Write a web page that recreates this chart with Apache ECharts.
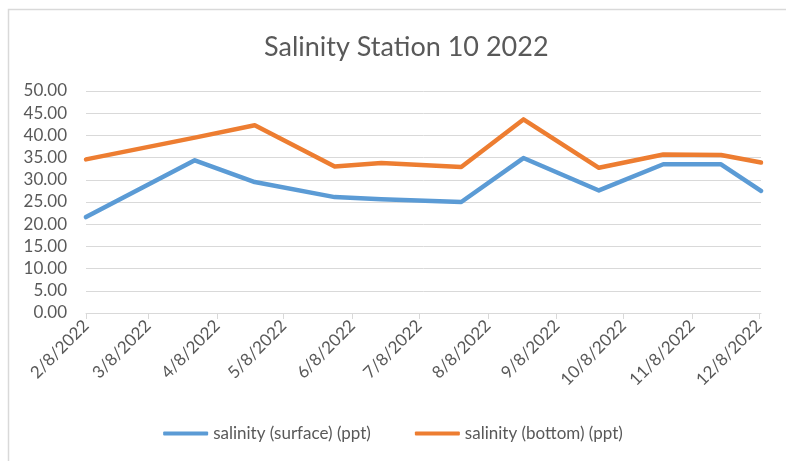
<!DOCTYPE html>
<html lang="en" style="height: 100%">
<head>
  <meta charset="utf-8">
</head>
<body style="height: 100%; margin: 0">
  <div id="container" style="height: 100%"></div>

  <script type="text/javascript" src="https://fastly.jsdelivr.net/npm/echarts@6.0.0/dist/echarts.min.js"></script>

  <script type="text/javascript">
    // sample dates and readings
    var sampleDates = ['2022-02-08', '2022-03-29', '2022-04-25', '2022-05-31', '2022-06-21', '2022-07-27',
      '2022-08-24', '2022-09-27', '2022-10-26', '2022-11-21', '2022-12-09'];
    var surface = [21.6, 34.4, 29.5, 26.1, 25.6, 25.0, 34.9, 27.6, 33.5, 33.5, 27.5];
    var bottom = [34.6, 39.5, 42.3, 33.0, 33.8, 32.9, 43.6, 32.7, 35.7, 35.6, 33.9];
    // tick labels on the x axis (monthly, on the 8th)
    var tickDates = ['2022-02-08', '2022-03-08', '2022-04-08', '2022-05-08', '2022-06-08', '2022-07-08',
      '2022-08-08', '2022-09-08', '2022-10-08', '2022-11-08', '2022-12-08'];

    // days since the first sample, so the x axis is a plain value axis
    var DAY = 86400000;
    function toDay(s) {
      var p = s.split('-');
      return Math.round((Date.UTC(+p[0], +p[1] - 1, +p[2]) - Date.UTC(2022, 1, 8)) / DAY);
    }
    function dayLabel(n) {
      var d = new Date(Date.UTC(2022, 1, 8) + n * DAY);
      return (d.getUTCMonth() + 1) + '/' + d.getUTCDate() + '/' + d.getUTCFullYear();
    }
    function pairs(vals) {
      return sampleDates.map(function (d, i) { return [toDay(d), vals[i]]; });
    }
    var tickDays = tickDates.map(toDay);

    var dom = document.getElementById('container');
    var myChart = echarts.init(dom, null, { renderer: 'canvas' });
    var font = 'Lato';
    var grey = '#595959';

    var option = {
      animation: false,
      backgroundColor: '#fff',
      color: ['#5B9BD5', '#ED7D31'],
      title: {
        text: 'Salinity Station 10 2022',
        left: 259,
        top: 29,
        textStyle: { fontFamily: font, fontSize: 27, fontWeight: 'normal', color: grey }
      },
      legend: {
        bottom: 14,
        left: 'center',
        icon: 'roundRect',
        itemWidth: 45,
        itemHeight: 4,
        itemGap: 44,
        textStyle: { fontFamily: font, fontSize: 17, color: grey },
        data: ['salinity (surface) (ppt)', 'salinity (bottom) (ppt)']
      },
      graphic: [{
        type: 'polyline',
        shape: { points: [[8.5, 470], [8.5, 9.5], [800, 9.5]] },
        style: { stroke: '#D9D9D9', lineWidth: 1.5, fill: null },
        silent: true
      }],
      grid: { left: 86, right: 25, top: 91, bottom: 148 },
      xAxis: {
        type: 'value',
        min: toDay(sampleDates[0]),
        max: toDay(sampleDates[sampleDates.length - 1]),
        axisLine: { show: true, onZero: false, lineStyle: { color: '#D9D9D9', width: 1 } },
        axisTick: { show: true, length: 6, lineStyle: { color: '#D9D9D9' }, customValues: tickDays },
        splitLine: { show: false },
        axisLabel: {
          customValues: tickDays,
          rotate: 45,
          margin: 10,
          fontFamily: font,
          fontSize: 17,
          color: grey,
          formatter: dayLabel
        }
      },
      yAxis: {
        type: 'value',
        min: 0,
        max: 50,
        interval: 5,
        axisLine: { show: false },
        axisTick: { show: false },
        splitLine: { lineStyle: { color: '#D9D9D9', width: 1 } },
        axisLabel: {
          margin: 19,
          fontFamily: font,
          fontSize: 17,
          color: grey,
          formatter: function (v) { return v.toFixed(2); }
        }
      },
      series: [
        {
          name: 'salinity (surface) (ppt)',
          type: 'line',
          data: pairs(surface),
          showSymbol: false,
          lineStyle: { width: 4.5, cap: 'round', join: 'round' }
        },
        {
          name: 'salinity (bottom) (ppt)',
          type: 'line',
          data: pairs(bottom),
          showSymbol: false,
          lineStyle: { width: 4.5, cap: 'round', join: 'round' }
        }
      ]
    };

    myChart.setOption(option);
    window.addEventListener('resize', myChart.resize);
  </script>
</body>
</html>
